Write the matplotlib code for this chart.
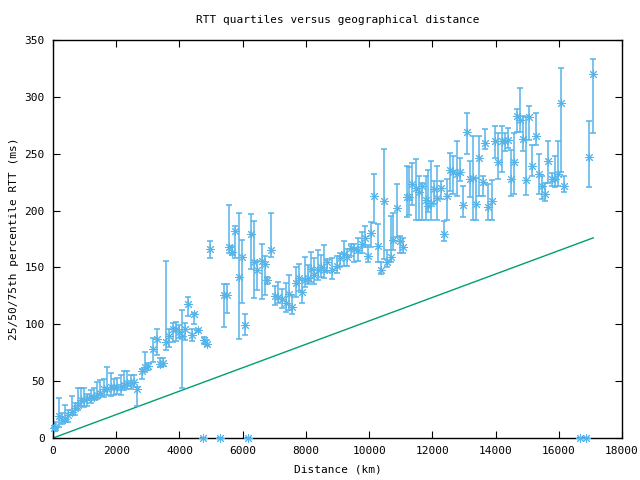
import matplotlib
matplotlib.use("Agg")
import matplotlib.pyplot as plt
import numpy as np

title = "RTT quartiles versus geographical distance"
xlabel = "Distance (km)"
ylabel = "25/50/75th percentile RTT (ms)"

distance = [20, 63, 190, 275, 380, 485, 590, 695, 800, 875, 980, 1085, 1190, 1297, 1400, 1487,
            1613, 1718, 1825, 1930, 2035, 2140, 2245, 2350, 2457, 2560, 2667, 2805, 2910, 3015,
            3175, 3280, 3384, 3490, 3574, 3680, 3785, 3890, 3995, 4090, 4175, 4280, 4385, 4470,
            4575, 4785, 4880, 4976, 5410, 5495, 5576, 5672, 5767, 5883, 5988, 6083, 6273, 6368,
            6463, 6600, 6705, 6780, 6886, 7022, 7127, 7253, 7370, 7475, 7570, 7676, 7781, 7886,
            7970, 8066, 8170, 8265, 8392, 8487, 8572, 8676, 8813, 8992, 9078, 9205, 9310, 9416,
            9522, 9657, 9763, 9868, 9973, 10058, 10153, 10290, 10385, 10480, 10574, 10680, 10764,
            10890, 10975, 11080, 11187, 11270, 11365, 11480, 11586, 11680, 11787, 11870, 11956,
            12051, 12155, 12262, 12367, 12472, 12557, 12662, 12767, 12873, 12978, 13083, 13189,
            13294, 13390, 13485, 13590, 13674, 13770, 13876, 13980, 14086, 14192, 14297, 14381,
            14476, 14581, 14686, 14771, 14876, 14961, 15066, 15160, 15277, 15382, 15477, 15571,
            15666, 15773, 15878, 15973, 16077, 16172, 16963, 17090,
            4744, 5282, 6168, 16670, 16860]
median = [9, 10, 19, 16, 17, 20, 23, 26, 29, 33, 33, 35, 36, 36, 38, 40,
          43, 43, 45, 45, 45, 45, 47, 48, 48, 49, 43, 59, 62, 63,
          78, 87, 65, 66, 84, 90, 96, 96, 93, 90, 96, 118, 91, 109,
          95, 86, 83, 166, 126, 126, 168, 164, 182, 142, 159, 99, 179, 155,
          148, 156, 153, 139, 165, 125, 124, 122, 119, 127, 115, 136, 141, 128,
          139, 141, 149, 143, 148, 150, 148, 155, 148, 151, 158, 162, 159, 167,
          166, 165, 171, 176, 160, 180, 213, 169, 148, 208, 155, 159, 174,
          202, 173, 168, 212, 212, 223, 220, 216, 222, 209, 204, 207,
          219, 211, 220, 179, 213, 236, 234, 232, 234, 205, 269, 228,
          229, 206, 246, 225, 259, 203, 208, 261, 243, 261, 261, 262,
          228, 243, 283, 280, 263, 227, 282, 239, 266, 232, 222, 215,
          244, 228, 228, 232, 295, 222, 247, 320,
          0, 0, 0, 0, 0]
q25 = [6, 7, 10, 12, 14, 14, 20, 20, 25, 28, 27, 28, 31, 33, 34, 38,
       36, 38, 37, 38, 39, 38, 42, 43, 43, 45, 28, 52, 58, 60,
       67, 73, 62, 63, 77, 80, 84, 85, 88, 44, 86, 107, 85, 100,
       93, 83, 81, 158, 98, 110, 163, 161, 158, 87, 119, 91, 149, 123,
       130, 122, 126, 135, 159, 117, 119, 114, 111, 113, 109, 124, 129, 119,
       133, 135, 137, 135, 139, 142, 141, 146, 140, 145, 150, 151, 151, 160,
       155, 156, 163, 168, 155, 168, 189, 155, 144, 157, 150, 155, 165,
       177, 163, 163, 194, 196, 205, 192, 192, 192, 192, 199, 192,
       206, 192, 210, 173, 192, 217, 215, 213, 226, 194, 250, 212,
       192, 192, 213, 213, 254, 192, 192, 246, 228, 234, 252, 255,
       213, 215, 269, 269, 252, 214, 262, 230, 258, 215, 210, 208,
       224, 222, 221, 222, 234, 216, 221, 268,
       0, 0, 0, 0, 0]
q75 = [12, 14, 35, 22, 29, 25, 37, 31, 44, 44, 44, 39, 42, 44, 49, 51,
       52, 62, 57, 52, 53, 55, 59, 59, 55, 55, 45, 61, 76, 66,
       88, 96, 70, 70, 156, 96, 101, 102, 99, 113, 101, 124, 96, 110,
       96, 89, 86, 173, 135, 135, 205, 169, 186, 198, 174, 109, 197, 191,
       156, 171, 160, 142, 198, 134, 137, 131, 136, 143, 126, 150, 153, 139,
       159, 152, 164, 158, 165, 161, 170, 157, 158, 160, 163, 173, 166, 171,
       171, 176, 181, 186, 170, 190, 232, 188, 155, 254, 165, 195, 198,
       223, 178, 176, 239, 238, 242, 245, 230, 224, 230, 236, 244,
       226, 239, 226, 191, 228, 251, 248, 261, 246, 222, 286, 244,
       266, 229, 266, 230, 272, 223, 227, 274, 268, 274, 268, 273,
       253, 268, 289, 308, 283, 282, 292, 258, 286, 250, 230, 224,
       261, 233, 248, 261, 325, 230, 279, 333,
       0, 0, 0, 0, 0]

line_distance = [0, 17090]
line_rtt = [0, 176]

blue = "#56b4e9"
green = "#009e73"

plt.rcParams['font.family'] = ['DejaVu Sans Mono', 'DejaVu Sans']
fig = plt.figure(figsize=(6.4, 4.8), dpi=100)
ax = fig.add_axes([53/640, 1 - 438/480, (622-53)/640, (438-40)/480])

d = np.array(distance, dtype=float)
m = np.array(median, dtype=float)
lo = np.array(q25, dtype=float)
hi = np.array(q75, dtype=float)
yerr = np.vstack([np.clip(m - lo, 0, None), np.clip(hi - m, 0, None)])

ax.errorbar(d, m, yerr=yerr, fmt='none', ecolor=blue, elinewidth=1.1,
            capsize=2.5, capthick=1.1, zorder=2)
ax.plot(d, m, linestyle='none', marker=(8, 2, 0), markersize=6.5,
        markeredgewidth=0.7, color=blue, markeredgecolor=blue, zorder=3, clip_on=False)
ax.plot(line_distance, line_rtt, color=green, linewidth=1.0, zorder=1)

ax.set_xlim(0, 18000)
ax.set_ylim(0, 350)
ax.set_xticks(np.arange(0, 18001, 2000))
ax.set_yticks(np.arange(0, 351, 50))
ax.tick_params(direction='in', length=5, width=0.8, top=True, right=True,
               labelsize=8, pad=6)
for s in ax.spines.values():
    s.set_linewidth(1.0)
ax.set_title(title, fontsize=8, pad=12)
ax.set_xlabel(xlabel, fontsize=8, labelpad=6)
ax.set_ylabel(ylabel, fontsize=8, labelpad=4)

fig.savefig("out.png", dpi=100)
